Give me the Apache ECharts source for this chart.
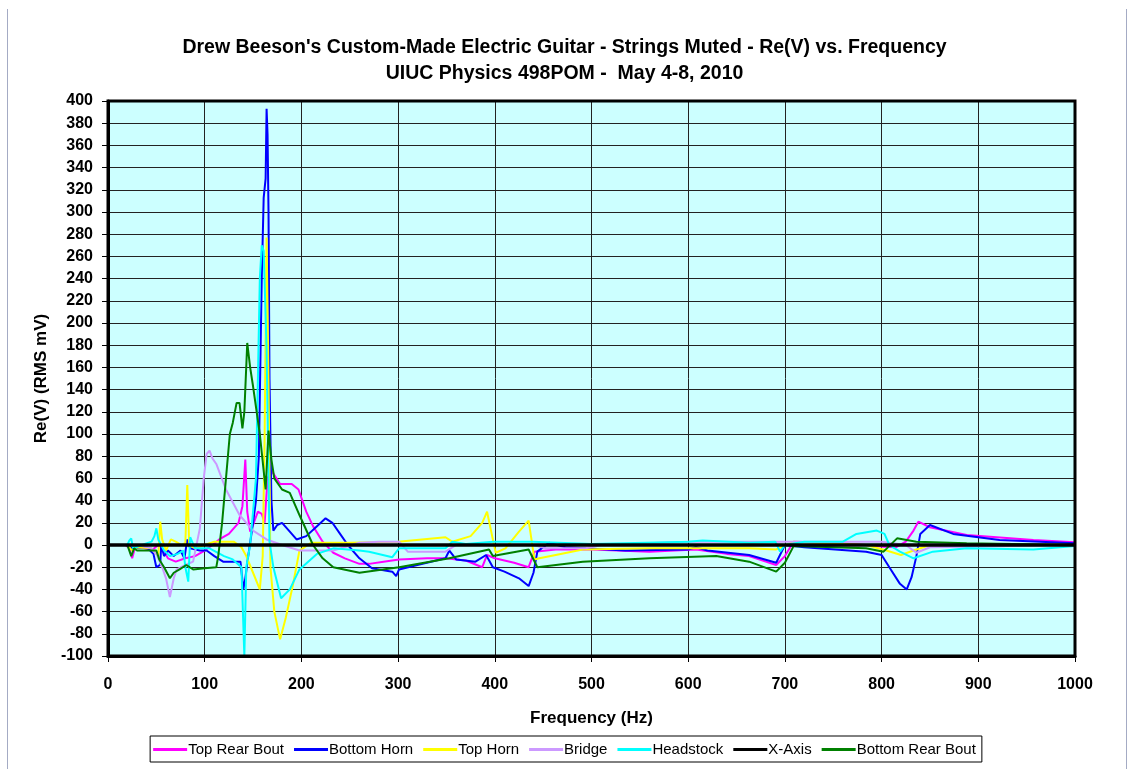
<!DOCTYPE html>
<html>
<head>
<meta charset="utf-8">
<title>Re(V) vs. Frequency</title>
<script src="https://cdn.jsdelivr.net/npm/echarts@6/dist/echarts.min.js"></script>
<style>
  html, body { margin: 0; padding: 0; background: #fff; }
  #main { width: 1129px; height: 769px; }
</style>
</head>
<body>
<div id="main"></div>
<script>
// [frequency Hz, Re(V) mV]
var topRearBout = [[10,0],[18,0],[22,-3],[25,-12],[28,-2],[35,-2],[45,-5],[52,0],[56,-3],[62,-12],[70,-15],[80,-12],[90,-10],[100,-5],[108,0],[115,5],[125,10],[135,20],[139,35],[142,77],[144,30],[147,12],[150,18],[155,30],[159,28],[162,20],[165,60],[169,67],[178,55],[190,55],[197,50],[205,30],[212,17],[222,3],[233,-7],[245,-12],[260,-17],[270,-17],[285,-15],[301,-13],[330,-12],[349,-12],[370,-14],[387,-20],[392,-9],[400,-12],[420,-16],[435,-20],[441,-6],[463,-4],[500,-4],[560,-6],[608,-4],[640,-8],[663,-10],[691,-18],[700,-10],[709,3],[750,2],[784,0],[802,-1.5],[815,-2],[825,3],[833,13],[838,21],[850,16],[888,9],[957,4.5],[1000,2.5]];

var bottomHorn = [[10,0],[20,0],[25,-3],[40,-2],[47,-8],[50,-20],[54,-18],[55,0],[58,-10],[62,-5],[68,-10],[75,-5],[79,-12],[82,5],[85,-3],[95,-5],[102,-5],[110,-10],[119,-15],[130,-15],[137,-15],[140,-40],[142,-30],[145,-10],[150,20],[153,40],[156,80],[159,240],[161,313],[163,330],[164,393],[165,370],[166,300],[167,150],[169,40],[171,13],[175,18],[180,20],[188,12],[195,5],[205,8],[215,16],[225,24],[232,20],[240,10],[248,0],[260,-12],[273,-21],[294,-24],[298,-28],[301,-22],[320,-18],[349,-12],[353,-5],[360,-13],[380,-15],[391,-9],[398,-20],[410,-24],[425,-30],[435,-37],[440,-25],[444,-6],[456,2],[473,-2],[535,-5],[600,-4],[608,-2],[620,-5],[663,-9],[691,-16],[700,0],[720,-2],[784,-6],[800,-9],[808,-20],[819,-35],[826,-40],[831,-29],[836,-10],[840,10],[850,18],[874,10],[922,4.5],[1000,1.5]];

var topHorn = [[10,0],[20,0],[25,-5],[30,-2],[45,-3],[52,-10],[54,21],[56,5],[60,-5],[65,5],[70,3],[76,0],[80,2],[82,54],[84,0],[90,-3],[100,0],[110,3],[130,3],[138,-2],[143,-10],[150,-25],[157,-40],[160,-10],[162,100],[164,277],[166,150],[168,-20],[172,-60],[178,-85],[184,-65],[191,-37],[198,-5],[210,2],[250,2],[300,3],[349,7],[356,3],[375,8],[387,20],[392,30],[398,5],[401,-7],[411,-3],[425,12],[435,22],[441,-13],[446,-12],[463,-9],[491,-4],[560,-3],[663,-3],[691,-4],[709,3],[784,0],[805,-5],[820,-9],[833,-5],[850,0],[1000,0]];

var bridge = [[10,0],[30,0],[45,-3],[50,-8],[56,-20],[60,-30],[64,-47],[68,-30],[71,-22],[80,-18],[88,-15],[95,15],[99,60],[102,82],[105,85],[108,78],[112,73],[122,50],[136,27],[150,13],[164,5],[180,0],[198,-5],[233,-5],[260,2],[280,3],[301,3],[310,-6],[349,-6],[360,0],[440,0],[453,-3],[494,-3],[510,0],[600,3],[700,3],[750,3],[800,3],[825,0],[836,-7],[850,-2],[1000,0]];

var headstock = [[10,0],[20,0],[22,4],[24,6],[26,-3],[35,0],[45,3],[48,8],[50,15],[52,5],[58,-5],[64,-10],[72,-8],[78,-5],[80,-20],[83,-33],[85,7],[90,-3],[105,-3],[120,-10],[129,-13],[138,-20],[141,-100],[143,-20],[147,0],[153,60],[157,240],[159,270],[161,265],[164,177],[167,3],[171,-20],[179,-48],[188,-40],[198,-22],[216,-8],[233,-3],[260,-5],[270,-6],[294,-11],[301,-3],[349,-3],[356,3],[370,1],[398,3],[439,3],[500,1],[600,3],[615,4],[663,2],[690,3],[695,-6],[700,0],[720,3],[760,3],[774,10],[795,13],[803,10],[808,0],[819,-6],[833,-12],[853,-6],[888,-3],[957,-4],[1000,-1]];

var xAxisLine = [[0,0],[1000,0]];

var bottomRearBout = [[10,0],[20,0],[24,-10],[27,-3],[30,-5],[45,-5],[50,-5],[53,-13],[58,-20],[64,-30],[68,-25],[74,-22],[81,-18],[88,-22],[100,-21],[112,-20],[114,-10],[118,20],[122,60],[126,100],[129,110],[133,128],[136,128],[139,105],[141,120],[144,182],[147,160],[150,143],[157,100],[163,50],[166,103],[169,77],[172,60],[180,50],[188,47],[198,27],[212,0],[222,-12],[233,-20],[260,-25],[301,-20],[353,-12],[394,-4],[398,-10],[435,-4],[444,-20],[491,-15],[560,-12],[629,-10],[663,-15],[691,-24],[700,-16],[709,-1],[784,-3],[802,-6],[816,6],[836,3],[888,1.5],[1000,0]];

var seriesNames = ['Top Rear Bout', 'Bottom Horn', 'Top Horn', 'Bridge', 'Headstock', 'X-Axis', 'Bottom Rear Bout'];
var seriesData = [topRearBout, bottomHorn, topHorn, bridge, headstock, xAxisLine, bottomRearBout];
var seriesColors = ['#ff00ff', '#0000ff', '#ffff00', '#cc99ff', '#00ffff', '#000000', '#008000'];
var seriesWidths = [2, 2, 2, 2, 2, 3.5, 2];

var myChart = echarts.init(document.getElementById('main'));

var series = [];
for (var i = 0; i < seriesNames.length; i++) {
    series.push({
        name: seriesNames[i],
        type: 'line',
        data: seriesData[i],
        showSymbol: false,
        symbol: 'none',
        color: seriesColors[i],
        lineStyle: { color: seriesColors[i], width: seriesWidths[i] },
        z: i === 5 ? 3 : 2,
        animation: false
    });
}

var font = 'Arial, "Liberation Sans", sans-serif';

var option = {
    backgroundColor: '#ffffff',
    animation: false,
    title: {
        text: "Drew Beeson's Custom-Made Electric Guitar - Strings Muted - Re(V) vs. Frequency\nUIUC Physics 498POM -  May 4-8, 2010",
        left: 'center',
        top: 30,
        textStyle: { fontFamily: font, fontSize: 19.5, fontWeight: 'bold', color: '#000', lineHeight: 26 }
    },
    legend: {
        data: seriesNames,
        bottom: 7,
        left: 'center',
        icon: 'rect',
        itemWidth: 34,
        itemHeight: 3,
        itemGap: 10,
        padding: [6, 6, 5, 3],
        borderColor: '#000',
        borderWidth: 1,
        borderRadius: 0,
        textStyle: { fontFamily: font, fontSize: 15, color: '#000', padding: [0, 0, 0, -4] }
    },
    grid: {
        left: 108,
        right: 54,
        top: 101,
        bottom: 113,
        show: true,
        backgroundColor: '#ccffff',
        borderColor: '#000',
        borderWidth: 0
    },
    xAxis: {
        type: 'value',
        min: 0,
        max: 1000,
        interval: 100,
        name: 'Frequency (Hz)',
        nameLocation: 'middle',
        nameGap: 54,
        nameTextStyle: { fontFamily: font, fontSize: 17, fontWeight: 'bold', color: '#000' },
        axisLine: { show: true, onZero: false, lineStyle: { color: '#000', width: 3 } },
        axisTick: { show: true, inside: false, length: 6, lineStyle: { color: '#000', width: 1 } },
        axisLabel: {
            fontFamily: font, fontSize: 16, fontWeight: 'bold', color: '#000', margin: 21,
            formatter: function (v) { return String(v); }
        },
        splitLine: { show: true, lineStyle: { color: '#222', width: 1 } }
    },
    yAxis: {
        type: 'value',
        min: -100,
        max: 400,
        interval: 20,
        name: 'Re(V) (RMS mV)',
        nameLocation: 'middle',
        nameGap: 58,
        nameTextStyle: { fontFamily: font, fontSize: 17, fontWeight: 'bold', color: '#000' },
        axisLine: { show: true, onZero: false, lineStyle: { color: '#000', width: 3 } },
        axisTick: { show: true, inside: false, length: 6, lineStyle: { color: '#000', width: 1 } },
        axisLabel: { fontFamily: font, fontSize: 16, fontWeight: 'bold', color: '#000', margin: 15 },
        splitLine: { show: true, lineStyle: { color: '#222', width: 1 } }
    },
    graphic: [
        { type: 'line', shape: { x1: 7.5, y1: 9, x2: 7.5, y2: 769 }, style: { stroke: '#a4abc4', lineWidth: 1 } },
        { type: 'line', shape: { x1: 1126.5, y1: 9, x2: 1126.5, y2: 769 }, style: { stroke: '#a4abc4', lineWidth: 1 } },
        // plot area frame
        { type: 'rect', z: 100, shape: { x: 108, y: 101, width: 967, height: 555 }, style: { fill: null, stroke: '#000', lineWidth: 3 } }
    ],
    series: series
};

myChart.setOption(option);
</script>
</body>
</html>
